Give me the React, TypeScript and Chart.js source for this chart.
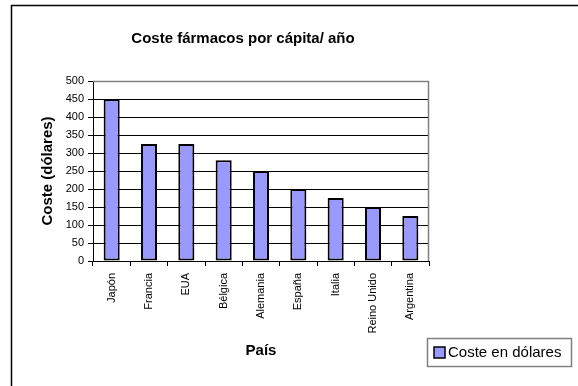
import React, { useEffect, useRef } from 'react';
import { Chart, registerables } from 'chart.js';

Chart.register(...registerables);

const categories = ['Japón', 'Francia', 'EUA', 'Bélgica', 'Alemania', 'España', 'Italia', 'Reino Unido', 'Argentina'];
const costValues = [450, 325, 325, 280, 250, 200, 175, 150, 125];
const yMin = 0;
const yMax = 500;
const yStep = 50;
const seriesLabel = 'Coste en dólares';
const chartTitle = 'Coste fármacos por cápita/ año';
const yTitle = 'Coste (dólares)';
const xTitle = 'País';

const FONT = '"Liberation Sans", Arial, sans-serif';
const BAR_FILL = '#9999FF';

const decorPlugin = {
  id: 'decor',
  beforeDraw(chart: any) {
    const ctx = chart.ctx;
    ctx.save();
    ctx.fillStyle = '#ffffff';
    ctx.fillRect(0, 0, chart.width, chart.height);
    ctx.strokeStyle = '#000000';
    ctx.lineWidth = 1.5;
    ctx.beginPath();
    ctx.moveTo(11.5, chart.height);
    ctx.lineTo(11.5, 5.5);
    ctx.lineTo(chart.width, 5.5);
    ctx.stroke();
    ctx.restore();
  },
  beforeDatasetsDraw(chart: any) {
    const ctx = chart.ctx;
    const a = chart.chartArea;
    ctx.save();
    ctx.strokeStyle = '#808080';
    ctx.lineWidth = 1.5;
    ctx.beginPath();
    ctx.moveTo(a.left, a.top + 0.5);
    ctx.lineTo(a.right - 0.5, a.top + 0.5);
    ctx.lineTo(a.right - 0.5, a.bottom);
    ctx.stroke();
    ctx.restore();
  },
  afterDraw(chart: any) {
    const ctx = chart.ctx;
    ctx.save();
    ctx.fillStyle = '#000000';
    ctx.font = `bold 15px ${FONT}`;
    ctx.textAlign = 'center';
    ctx.textBaseline = 'middle';
    ctx.fillText(chartTitle, 243, 39);
    const ds = chart.data.datasets[0];
    ctx.strokeStyle = '#808080';
    ctx.lineWidth = 1.5;
    ctx.strokeRect(427.5, 338.5, 144, 28);
    ctx.fillStyle = ds.backgroundColor;
    ctx.fillRect(434, 347, 11, 11);
    ctx.strokeStyle = '#000000';
    ctx.lineWidth = 1.5;
    ctx.strokeRect(434, 347, 11, 11);
    ctx.fillStyle = '#000000';
    ctx.font = `15px ${FONT}`;
    ctx.textAlign = 'left';
    ctx.textBaseline = 'middle';
    ctx.fillText(ds.label, 448, 353);
    ctx.restore();
  },
};

export default function App() {
  const canvasRef = useRef<HTMLCanvasElement | null>(null);

  useEffect(() => {
    if (!canvasRef.current) return;
    const chart = new Chart(canvasRef.current, {
      type: 'bar',
      data: {
        labels: categories,
        datasets: [
          {
            label: seriesLabel,
            data: costValues,
            backgroundColor: BAR_FILL,
            borderColor: '#000000',
            borderWidth: 2,
            borderSkipped: false,
            barPercentage: 0.43,
            categoryPercentage: 1,
          },
        ],
      },
      options: {
        responsive: false,
        animation: false,
        devicePixelRatio: 1,
        layout: { padding: { left: 0, top: 81, right: 149, bottom: 0 } },
        plugins: {
          legend: { display: false },
          title: { display: false },
          tooltip: { enabled: false },
        },
        scales: {
          x: {
            grid: { drawOnChartArea: false, drawTicks: true, tickLength: 5, color: '#000000', offset: true },
            border: { color: '#000000', width: 1 },
            ticks: {
              font: { family: FONT, size: 11 },
              color: '#000000',
              minRotation: 90,
              maxRotation: 90,
              padding: 7,
              autoSkip: false,
            },
            title: {
              display: true,
              text: xTitle,
              color: '#000000',
              font: { family: FONT, size: 15, weight: 'bold' },
              padding: { top: 0, bottom: 26 },
            },
            afterFit(scale: any) {
              scale.height = 125;
            },
          },
          y: {
            min: yMin,
            max: yMax,
            grid: { color: '#000000', tickLength: 5 },
            border: { color: '#000000', width: 1 },
            ticks: {
              stepSize: yStep,
              font: { family: FONT, size: 11 },
              color: '#000000',
              padding: 4,
            },
            title: {
              display: true,
              text: yTitle,
              color: '#000000',
              font: { family: FONT, size: 15, weight: 'bold' },
              padding: { top: 39, bottom: 0 },
            },
            afterFit(scale: any) {
              scale.width = 93;
            },
          },
        },
      } as any,
      plugins: [decorPlugin],
    });
    return () => chart.destroy();
  }, []);

  return (
    <div style={{ position: 'fixed', left: 0, top: 0, width: 578, height: 386, background: '#fff' }}>
      <canvas ref={canvasRef} width={578} height={386} style={{ display: 'block', width: 578, height: 386 }} />
    </div>
  );
}
